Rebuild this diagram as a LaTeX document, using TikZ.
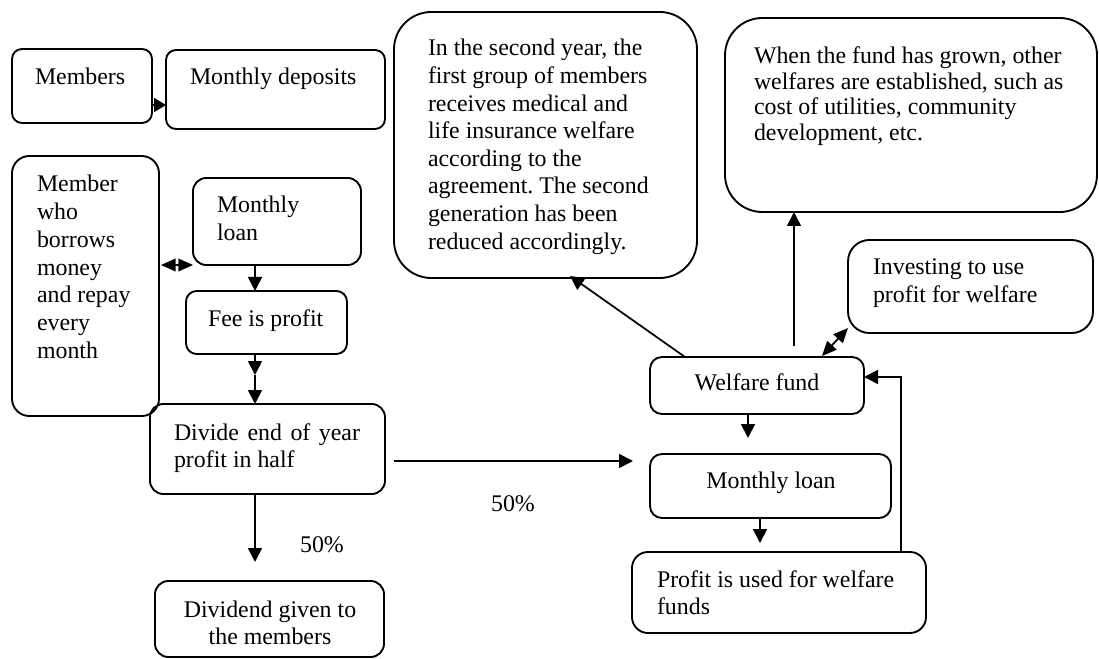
\documentclass[tikz,border=0pt]{standalone}
\usepackage{fontspec}
\setmainfont{Liberation Serif}
\usetikzlibrary{arrows.meta,calc,fit}
\frenchspacing
% multi-line labels whose reference point is the baseline of the first line
\newcommand\linesL[1]{\begin{tabular}[t]{@{}l@{}}#1\end{tabular}}
\newcommand\linesC[1]{\begin{tabular}[t]{@{}c@{}}#1\end{tabular}}
\begin{document}
\begin{tikzpicture}[x=0.75pt,y=-0.75pt,
  box/.style={draw, line width=1.4pt, inner sep=0pt, outer sep=0pt},
  txt/.style={inner sep=0pt, outer sep=0pt, anchor=base west,
    font=\fontsize{17.9}{20.8}\selectfont},
  ctxt/.style={txt, anchor=base},
  arr/.style={line width=1.3pt, -{Triangle[length=10.5pt,width=10.5pt]}},
  darr/.style={line width=1.3pt, {Triangle[length=11pt,width=9.5pt]}-{Triangle[length=11pt,width=9.5pt]}},
]
\useasboundingbox (0,0) rectangle (1099,659);

% ---- boxes ----
\node[box, rounded corners=7.5pt, fit={(12,49) (152,123)}] (members) {};
\node[box, rounded corners=7.5pt, fit={(166,50) (385,129)}] (deposits) {};
\node[box, rounded corners=13pt, fit={(12,156) (159,416)}] (borrower) {};
\node[box, rounded corners=10pt, fit={(193,178) (361,265)}] (loanL) {};
\node[box, rounded corners=8pt, fit={(186,291) (347,354)}] (fee) {};
\node[box, rounded corners=10pt, fit={(150,404) (385,494)}] (divide) {};
\node[box, rounded corners=10pt, fit={(155,581) (384,657)}] (dividend) {};
\node[box, rounded corners=28pt, fit={(394,12) (697,278)}] (year2) {};
\node[box, rounded corners=28pt, fit={(725,18) (1097,212)}] (grown) {};
\node[box, rounded corners=16pt, fit={(848,240) (1093,333)}] (invest) {};
\node[box, rounded corners=9pt, fit={(650,357) (864,414)}] (welfare) {};
\node[box, rounded corners=9pt, fit={(650,454) (891,518)}] (loanR) {};
\node[box, rounded corners=12pt, fit={(632,552) (926,633)}] (profit) {};

% ---- texts ----
\node[txt] (t-members) at (35,85) {Members};
\node[txt] (t-deposits) at (190,85) {Monthly deposits};
\node[txt] (t-borrower) at (37,192) {\linesL{Member\\who\\borrows\\money\\and repay\\every\\month}};
\node[txt] (t-loanL) at (217,213) {\linesL{Monthly\\loan}};
\node[txt] (t-fee) at (208,326) {Fee is profit};
\node[txt] (t-divide) at (174,440) {\linesL{\makebox[139.5pt][s]{Divide end of year}\\profit in half}};
\node[ctxt] (t-dividend) at (270,617) {\linesC{Dividend given to\\the members}};
\node[txt, font=\fontsize{17.9}{20.7}\selectfont] (t-year2) at (428,56)
  {\linesL{In the second year, the\\first group of members\\receives medical and\\life insurance welfare\\according to the\\agreement. The second\\generation has been\\reduced accordingly.}};
\node[txt, font=\fontsize{17.9}{19.2}\selectfont] (t-grown) at (754,63.5)
  {\linesL{When the fund has grown, other\\welfares are established, such as\\cost of utilities, community\\development, etc.}};
\node[txt] (t-invest) at (873,275) {\linesL{Investing to use\\profit for welfare}};
\node[ctxt] (t-welfare) at (757,390) {Welfare fund};
\node[ctxt] (t-loanR) at (771,488) {Monthly loan};
\node[txt] (t-profit) at (657,587) {\linesL{Profit is used for welfare\\funds}};
\node[ctxt] (pct-right) at (513,511) {50\%};
\node[ctxt] (pct-down) at (322,552) {50\%};

% ---- connectors ----
\coordinate (axis) at (255,0);
\coordinate (m1) at ($(members.north east)!0.757!(members.south east)$);
\draw[line width=1.3pt, -{Triangle[length=9pt,width=10.5pt]}] (m1) -- (m1 -| deposits.west);
\coordinate (b1) at ($(borrower.east |- loanL.south west)+(2,0)$);
\draw[darr] (b1) -- (loanL.south west);
\draw[arr] (loanL.south -| axis) -- (fee.north -| axis);
\coordinate (feemid) at ($(fee.south -| axis)+(0,21)$);
\draw[arr] (fee.south -| axis) -- (feemid);
\draw[arr] (feemid) -- (divide.north -| axis);
\draw[arr] (divide.south -| axis) -- ($(divide.south -| axis)+(0,68)$);
\draw[arr] ($(divide.east)+(9,12)$) -- ($(loanR.west)+(-17,-25)$);
\draw[arr] ($(welfare.north west)+(35,0)$) -- ($(year2.south)+(24.5,-2)$);
\coordinate (wg) at ($(welfare.north west)+(144,-11)$);
\draw[arr] (wg) -- (wg |- grown.south);
\draw[darr] ($(welfare.north west)+(172,-1)$) -- ($(invest.south west)+(0,-5)$);
\draw[arr] ($(welfare.south west)+(98,0)$) -- ++(0,24);
\draw[arr] ($(loanR.south west)+(110,0)$) -- ++(0,25);
\draw[arr] ($(profit.north west)+(269,0)$) |- ($(welfare.east)+(0,-8.5)$);
\end{tikzpicture}
\end{document}
